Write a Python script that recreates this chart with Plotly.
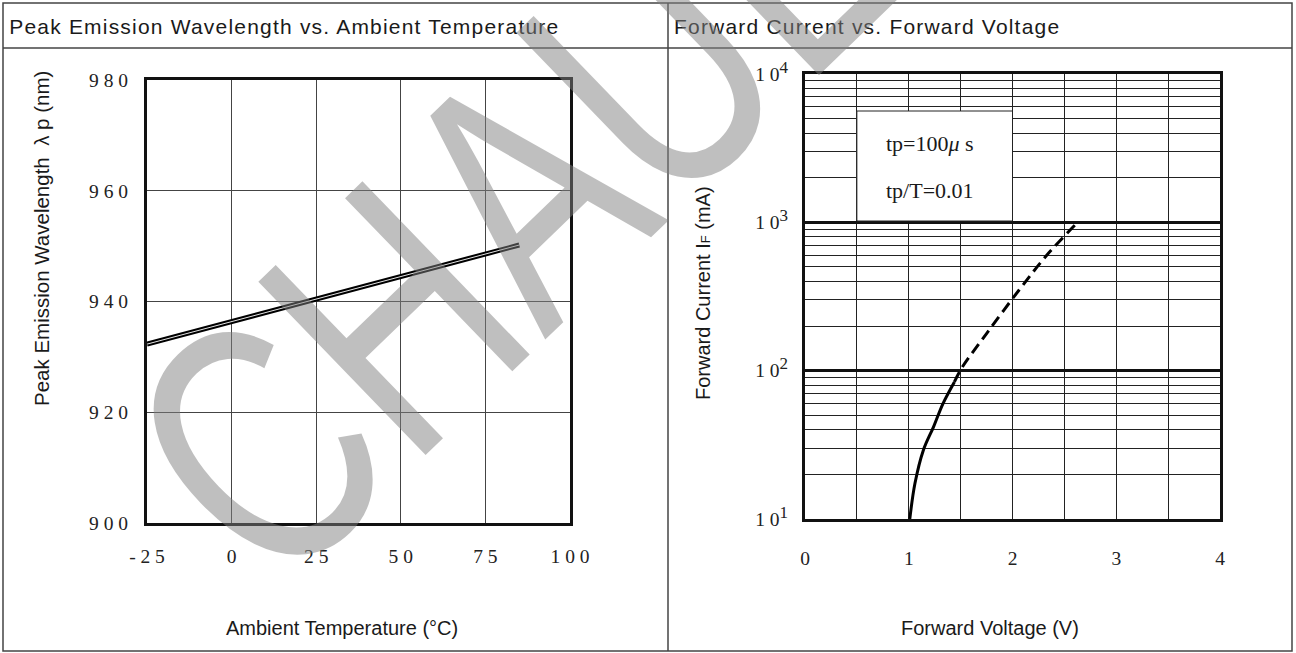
import plotly.graph_objects as go

W, H = 1296, 653

# ---------------- data ----------------
temp_c = [-25, 85]
peak_nm = [932.3, 950.2]
temp_ticks = [-25, 0, 25, 50, 75, 100]
temp_labels = ["- 2 5", "0", "2 5", "5 0", "7 5", "1 0 0"]
wl_ticks = [900, 920, 940, 960, 980]
wl_labels = ["9 0 0", "9 2 0", "9 4 0", "9 6 0", "9 8 0"]

vf_solid = [1.01, 1.06, 1.14, 1.24, 1.33, 1.44]
if_solid = [10, 17.4, 29, 42, 60, 84]
vf_dash = [1.44, 1.51, 1.75, 2.06, 2.33, 2.60]
if_dash = [84, 104, 178, 347, 600, 955]
vf_ticks = [0, 1, 2, 3, 4]
vf_labels = ["0", "1", "2", "3", "4"]
if_ticks = [10, 100, 1000, 10000]
if_exps = ["1", "2", "3", "4"]

title_left = "Peak Emission Wavelength vs. Ambient Temperature"
title_right = "Forward Current vs. Forward Voltage"
note_lines = ["tp=100<i>\u03bc</i> s", "tp/T=0.01"]
watermark = "CHAULE"

if_labels = ["1 0<sup><span style='font-size:17px'>%s</span></sup>" % e for e in if_exps]


def px(x):
    return x / W


def py(y):
    return 1 - y / H


serif = "Liberation Serif, Times New Roman, serif"
sans = "Liberation Sans, Arial, sans-serif"
ink = "#1a1a1a"

fig = go.Figure()

# left chart: double line
fig.add_trace(go.Scatter(x=temp_c, y=peak_nm, mode="lines",
                         line=dict(color="black", width=5), xaxis="x", yaxis="y",
                         showlegend=False, hoverinfo="skip"))
fig.add_trace(go.Scatter(x=temp_c, y=peak_nm, mode="lines",
                         line=dict(color="white", width=0.9), xaxis="x", yaxis="y",
                         showlegend=False, hoverinfo="skip"))

# right chart
fig.add_trace(go.Scatter(x=vf_solid, y=if_solid, mode="lines",
                         line=dict(color="black", width=3, shape="spline"),
                         xaxis="x2", yaxis="y2", showlegend=False, hoverinfo="skip"))
fig.add_trace(go.Scatter(x=vf_dash, y=if_dash, mode="lines",
                         line=dict(color="black", width=3, dash="11px,6px", shape="spline"),
                         xaxis="x2", yaxis="y2", showlegend=False, hoverinfo="skip"))

tickfont = dict(family=serif, size=19.5, color="#222")

fig.update_layout(
    width=W, height=H,
    margin=dict(l=0, r=0, t=0, b=0),
    paper_bgcolor="white", plot_bgcolor="white",
    showlegend=False,
    xaxis=dict(domain=[px(147), px(570)], range=[-25, 100],
               tickvals=temp_ticks, ticktext=temp_labels, tickfont=tickfont,
               ticks="outside", ticklen=14, tickcolor="rgba(0,0,0,0)",
               showgrid=True, gridcolor="#444", gridwidth=1,
               showline=True, linecolor="#111", linewidth=3, mirror=True,
               zeroline=False, fixedrange=True, automargin=False),
    yaxis=dict(domain=[py(523), py(80)], range=[900, 980],
               tickvals=wl_ticks, ticktext=wl_labels, tickfont=tickfont,
               ticks="outside", ticklen=12, tickcolor="rgba(0,0,0,0)",
               showgrid=True, gridcolor="#444", gridwidth=1,
               showline=True, linecolor="#111", linewidth=3, mirror=True,
               zeroline=False, fixedrange=True, automargin=False),
    xaxis2=dict(domain=[px(805), px(1220)], range=[0, 4], anchor="y2",
                tickvals=vf_ticks, ticktext=vf_labels, tickfont=tickfont,
                ticks="outside", ticklen=20, tickcolor="rgba(0,0,0,0)",
                showgrid=True, gridcolor="#222", gridwidth=1,
                minor=dict(dtick=0.5, showgrid=True, gridcolor="#222", gridwidth=1),
                showline=True, linecolor="#111", linewidth=3, mirror=True,
                zeroline=False, fixedrange=True, automargin=False),
    yaxis2=dict(domain=[py(519), py(74)], type="log", range=[1, 4], anchor="x2",
                tickvals=if_ticks, ticktext=if_labels, tickfont=tickfont,
                ticks="outside", ticklen=10, tickcolor="rgba(0,0,0,0)",
                showgrid=True, gridcolor="#111", gridwidth=3,
                minor=dict(dtick="D1", showgrid=True, gridcolor="#222", gridwidth=1),
                showline=True, linecolor="#111", linewidth=3, mirror=True,
                zeroline=False, fixedrange=True, automargin=False),
)

shapes = []
border = dict(color="#444", width=1.5)
# table borders
shapes.append(dict(type="rect", xref="paper", yref="paper", x0=px(3), x1=px(1292), y0=py(651), y1=py(3), line=border))
shapes.append(dict(type="line", xref="paper", yref="paper", x0=px(3), x1=px(1292), y0=py(48), y1=py(48), line=border))
shapes.append(dict(type="line", xref="paper", yref="paper", x0=px(668), x1=px(668), y0=py(651), y1=py(3), line=border))
# note box in right chart
shapes.append(dict(type="rect", xref="x2", yref="paper", x0=0.5, x1=2.0, y0=py(221), y1=py(111),
                   fillcolor="white", line=dict(color="#222", width=1), layer="above"))
fig.update_layout(shapes=shapes)


def note(text, x, y, size, family=sans, angle=0, color=ink, xa="center", ya="middle"):
    return dict(text=text, x=px(x), y=py(y), xref="paper", yref="paper",
                xanchor=xa, yanchor=ya, textangle=angle, showarrow=False,
                font=dict(family=family, size=size, color=color))


ann = [
    note(title_left, 36, 27, 21, xa="left"),
    note(title_right, 693, 27, 21, xa="left"),
    note("Peak Emission Wavelength  \u03bb p (nm)", 42, 239, 20.5, angle=-90),
    note("Ambient Temperature (\u00b0C)", 342, 628, 20),
    note("Forward Current I<span style='font-size:13px'>F</span> (mA)", 703, 293, 20, angle=-90),
    note("Forward Voltage (V)", 990, 628, 20),
    note(note_lines[0], 930, 143, 22, family=serif),
    note(note_lines[1], 930, 190, 22, family=serif),
    note(watermark, 569, 147, 350, angle=-44, color="rgba(128,128,128,0.5)"),
]
fig.update_layout(annotations=ann)

post = """
document.body.style.margin = '0px';
var gd = document.getElementById('{plot_id}');
gd.querySelectorAll('text.annotation-text').forEach(function(t){
  var s = t.textContent;
  if (s === 'CHAULE') {
    t.style.transformBox = 'fill-box';
    t.style.transformOrigin = 'center';
    t.style.transform = 'scaleX(0.74)';
  }
  if (s.indexOf(' vs. ') >= 0) { t.style.letterSpacing = '1.2px'; }
});
"""

fig.write_html("out.html", post_script=post, config={"displayModeBar": False})
